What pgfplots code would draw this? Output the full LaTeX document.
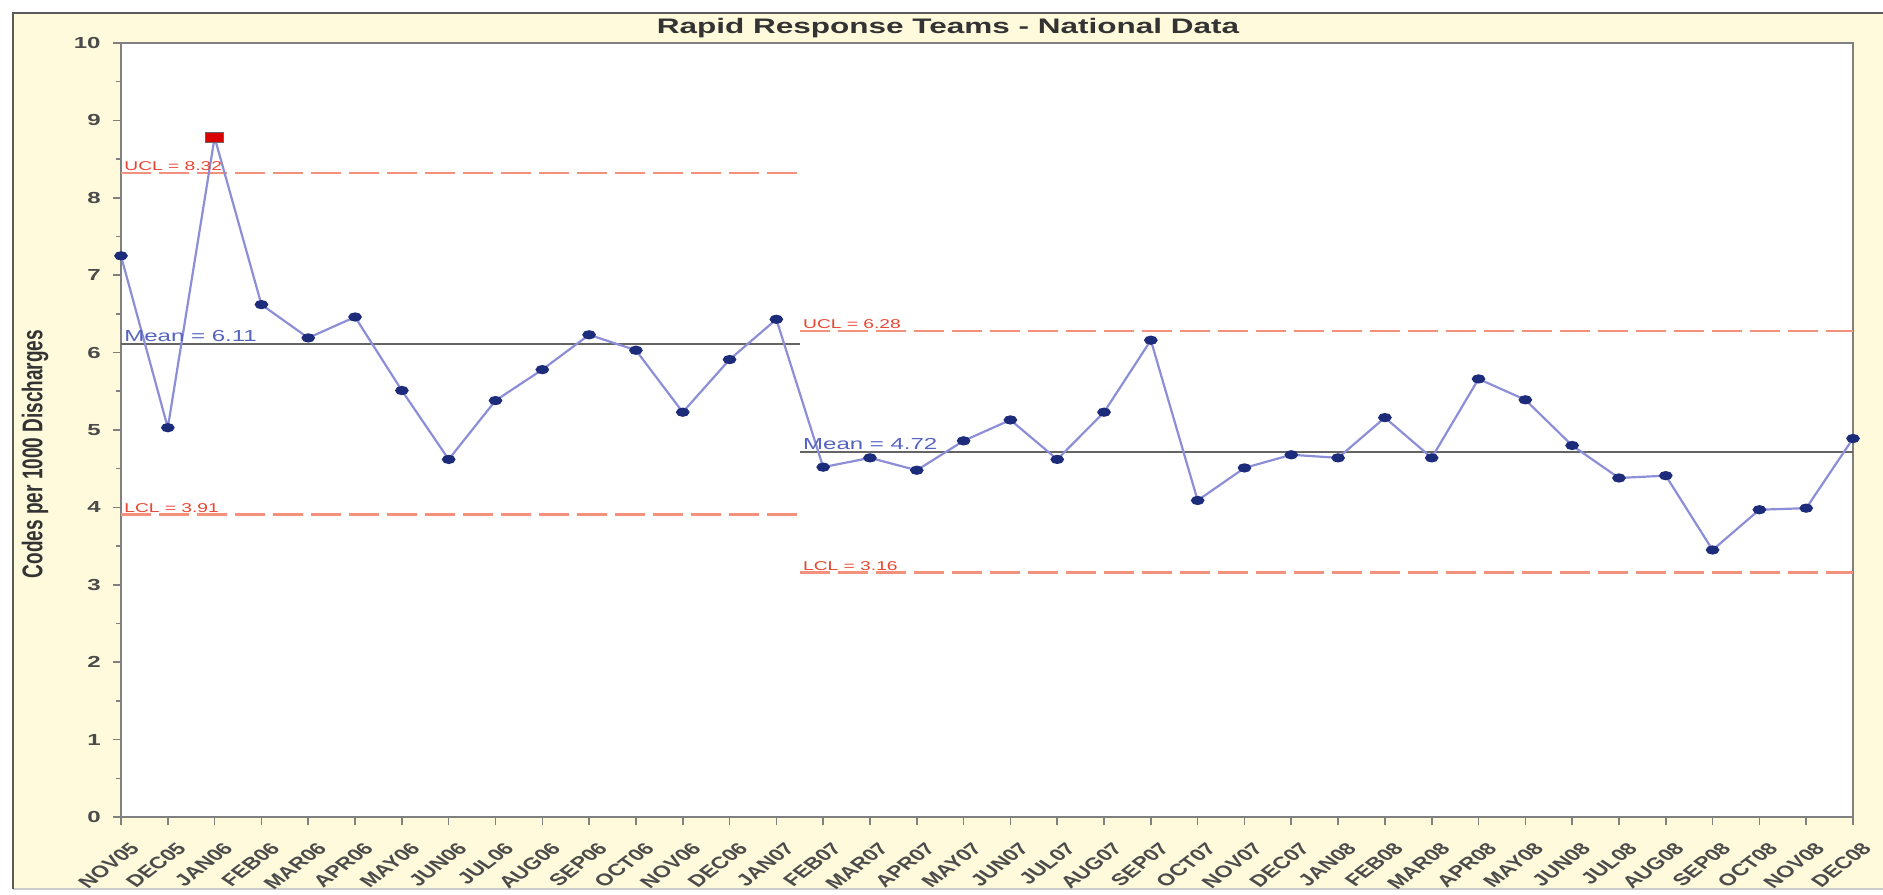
\documentclass[border=0pt]{standalone}
\usepackage{pgfplots}
\pgfplotsset{compat=1.18}
\usepackage{fontspec}
\setmainfont{Liberation Sans}
\usepackage{graphicx}
\definecolor{beige}{RGB}{255,250,220}
\definecolor{framegray}{RGB}{90,90,90}
\definecolor{axgray}{RGB}{128,128,128}
\definecolor{ticktext}{RGB}{75,75,75}
\definecolor{datline}{RGB}{140,143,216}
\definecolor{navy}{RGB}{28,43,122}
\definecolor{ctrl}{RGB}{243,145,125}
\definecolor{ctrltext}{RGB}{232,70,50}
\definecolor{meantext}{RGB}{85,99,193}
\definecolor{meanline}{RGB}{100,100,100}
\newcommand{\sx}[1]{\scalebox{1.5}[1]{#1}}
\newcommand{\xl}[1]{\scalebox{1.4}[1]{\rotatebox{47}{#1}}}
\begin{document}
\begin{tikzpicture}
\useasboundingbox (-60.5pt,-38.5pt) rectangle (881pt,408.5pt);
\fill[white] (-60.5pt,-38.5pt) rectangle (881pt,408.5pt);
\fill[beige] (-54pt,-36pt) rectangle (881pt,402pt);
\draw[black!20, line width=0.8pt] (-54pt,-36pt) -- (881pt,-36pt);
\draw[framegray, line width=1.3pt] (-54pt,-36pt) -- (-54pt,402pt) -- (881pt,402pt);
\begin{axis}[
  at={(0pt,0pt)}, anchor=south west,
  scale only axis, width=866pt, height=387pt,
  xmin=0, xmax=37, ymin=0, ymax=10,
  clip=false,
  axis background/.style={fill=white},
  axis line style={draw=axgray, line width=1.3pt},
  tick align=outside, tick pos=left,
  major tick length=4pt, minor tick length=2.5pt,
  every tick/.style={axgray, line width=0.8pt},
  xtick={0,...,37},
  xticklabels={\xl{NOV05},\xl{DEC05},\xl{JAN06},\xl{FEB06},\xl{MAR06},\xl{APR06},\xl{MAY06},\xl{JUN06},\xl{JUL06},\xl{AUG06},\xl{SEP06},\xl{OCT06},\xl{NOV06},\xl{DEC06},\xl{JAN07},\xl{FEB07},\xl{MAR07},\xl{APR07},\xl{MAY07},\xl{JUN07},\xl{JUL07},\xl{AUG07},\xl{SEP07},\xl{OCT07},\xl{NOV07},\xl{DEC07},\xl{JAN08},\xl{FEB08},\xl{MAR08},\xl{APR08},\xl{MAY08},\xl{JUN08},\xl{JUL08},\xl{AUG08},\xl{SEP08},\xl{OCT08},\xl{NOV08},\xl{DEC08}},
  ytick={0,1,2,3,4,5,6,7,8,9,10},
  yticklabels={\sx{0},\sx{1},\sx{2},\sx{3},\sx{4},\sx{5},\sx{6},\sx{7},\sx{8},\sx{9},\sx{10}},
  minor ytick={0.5,1.5,2.5,3.5,4.5,5.5,6.5,7.5,8.5,9.5},
  xticklabel style={anchor=north east, inner sep=0pt, font=\bfseries\fontsize{8.3}{9}\selectfont, text=ticktext, xshift=10pt, yshift=-8pt},
  yticklabel style={anchor=east, inner sep=0pt, font=\bfseries\fontsize{8}{9}\selectfont, text=ticktext, xshift=-6pt},
]
% control limits, phase 1
\addplot[ctrl, line width=1.3pt, dash pattern=on 15pt off 4pt] coordinates {(0,8.32) (14.5,8.32)};
\addplot[ctrl, line width=1.3pt, dash pattern=on 15pt off 4pt] coordinates {(0,3.91) (14.5,3.91)};
\addplot[meanline, line width=1pt] coordinates {(0,6.11) (14.5,6.11)};
% control limits, phase 2
\addplot[ctrl, line width=1.3pt, dash pattern=on 15pt off 4pt] coordinates {(14.5,6.28) (37,6.28)};
\addplot[ctrl, line width=1.3pt, dash pattern=on 15pt off 4pt] coordinates {(14.5,3.16) (37,3.16)};
\addplot[meanline, line width=1pt] coordinates {(14.5,4.72) (37,4.72)};
% data
\addplot[datline, line width=1.1pt, mark=*, mark size=1.75pt, mark options={fill=navy, draw=navy, xscale=1.6}] coordinates {
(0,7.25) (1,5.03) (2,8.78) (3,6.62) (4,6.19) (5,6.46) (6,5.51) (7,4.62) (8,5.38) (9,5.78)
(10,6.23) (11,6.03) (12,5.23) (13,5.91) (14,6.43) (15,4.52) (16,4.64) (17,4.48) (18,4.86) (19,5.13)
(20,4.62) (21,5.23) (22,6.16) (23,4.09) (24,4.51) (25,4.68) (26,4.64) (27,5.16) (28,4.64) (29,5.66)
(30,5.39) (31,4.80) (32,4.38) (33,4.41) (34,3.45) (35,3.97) (36,3.99) (37,4.89)};
\addplot[only marks, mark=square*, mark size=2.3pt, mark options={fill=red!85!black, draw=black!60, line width=0.5pt, xscale=2}] coordinates {(2,8.78)};
% labels
\node[anchor=south west, inner sep=0pt, text=ctrltext, font=\fontsize{6.4}{7}\selectfont, xshift=1.5pt, yshift=0.8pt] at (axis cs:0,8.32) {\sx{UCL = 8.32}};
\node[anchor=south west, inner sep=0pt, text=ctrltext, font=\fontsize{6.4}{7}\selectfont, xshift=1.5pt, yshift=0.8pt] at (axis cs:0,3.91) {\sx{LCL = 3.91}};
\node[anchor=south west, inner sep=0pt, text=meantext, font=\fontsize{8}{9}\selectfont, xshift=1.5pt, yshift=1pt] at (axis cs:0,6.11) {\sx{Mean = 6.11}};
\node[anchor=south west, inner sep=0pt, text=ctrltext, font=\fontsize{6.4}{7}\selectfont, xshift=1.5pt, yshift=0.8pt] at (axis cs:14.5,6.28) {\sx{UCL = 6.28}};
\node[anchor=south west, inner sep=0pt, text=ctrltext, font=\fontsize{6.4}{7}\selectfont, xshift=1.5pt, yshift=0.8pt] at (axis cs:14.5,3.16) {\sx{LCL = 3.16}};
\node[anchor=south west, inner sep=0pt, text=meantext, font=\fontsize{8}{9}\selectfont, xshift=1.5pt, yshift=1pt] at (axis cs:14.5,4.72) {\sx{Mean = 4.72}};
\end{axis}
\node[font=\bfseries\fontsize{10.5}{12}\selectfont, text=black!80] at (413.5pt,394.5pt) {\sx{Rapid Response Teams - National Data}};
\node[rotate=90, font=\bfseries\fontsize{9.5}{11}\selectfont, text=black!80] at (-43pt,181.5pt) {\scalebox{1}[1.5]{Codes per 1000 Discharges}};
\end{tikzpicture}
\end{document}
